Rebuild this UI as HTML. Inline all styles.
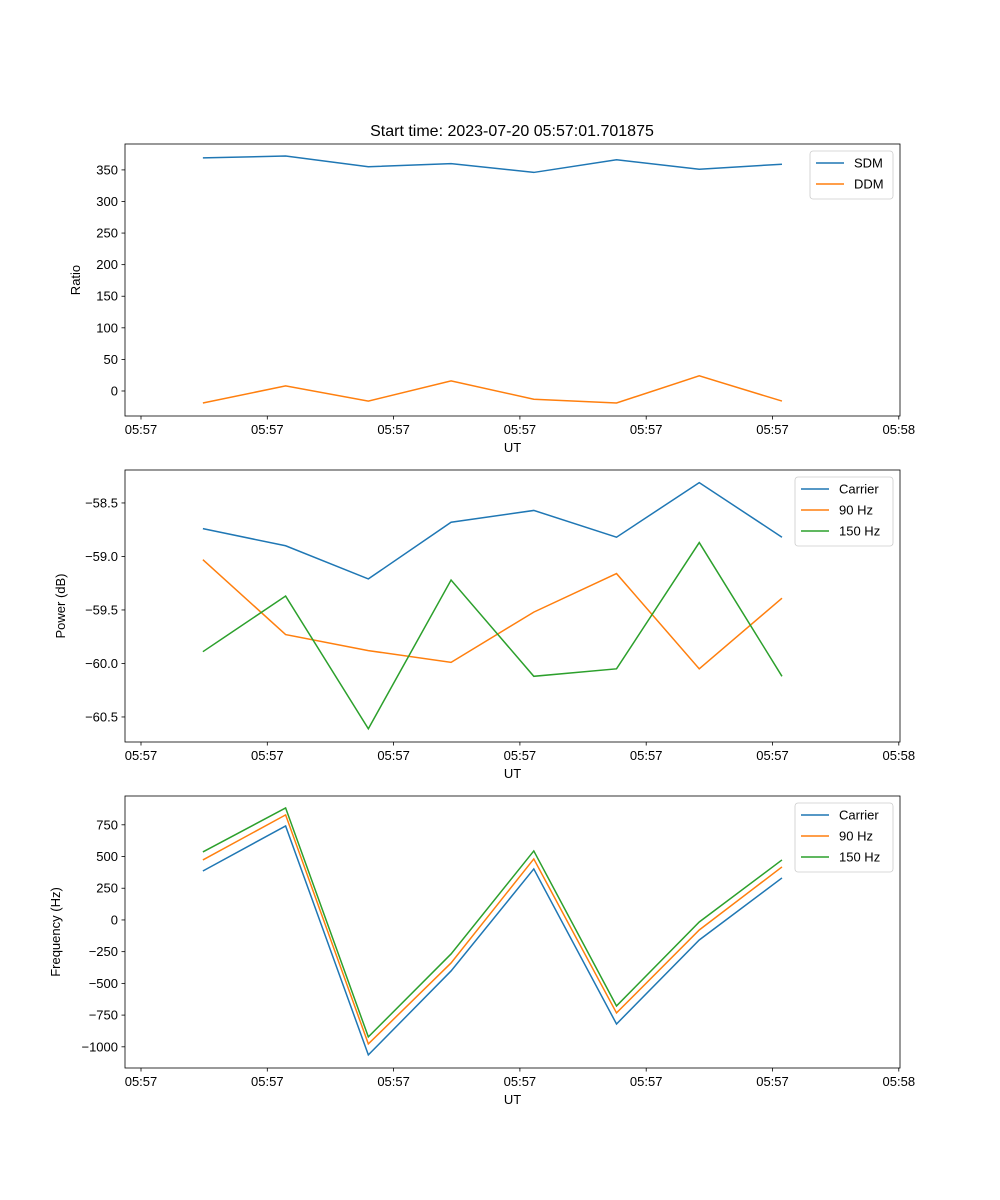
<!DOCTYPE html>
<html><head><meta charset="utf-8"><style>
body{margin:0;background:#fff;}
svg{display:block;font-family:"Liberation Sans","DejaVu Sans",sans-serif;}
</style></head><body>
<svg id="fig" width="1000" height="1200" xmlns="http://www.w3.org/2000/svg">
<text x="512" y="136" font-size="16" text-anchor="middle">Start time: 2023-07-20 05:57:01.701875</text>
</svg>
<script>
const xIdx = [0, 1, 2, 3, 4, 5, 6, 7];
const xTickLabels = ["05:57","05:57","05:57","05:57","05:57","05:57","05:58"];
const sdm = [369, 372, 355, 360, 346, 366, 351, 359];
const ddm = [-19, 8, -16, 16, -13, -19, 24, -16];
const pwrCarrier = [-58.74, -58.90, -59.21, -58.68, -58.57, -58.82, -58.31, -58.82];
const pwr90 = [-59.03, -59.73, -59.88, -59.99, -59.52, -59.16, -60.05, -59.39];
const pwr150 = [-59.89, -59.37, -60.61, -59.22, -60.12, -60.05, -58.87, -60.12];
const frqCarrier = [386, 741, -1064, -402, 402, -820, -158, 331];
const frq90 = [473, 828, -977, -339, 481, -733, -79, 418];
const frq150 = [536, 883, -922, -268, 544, -678, -16, 473];
const ratioTicks = [0, 50, 100, 150, 200, 250, 300, 350];
const powerTicks = [-60.5, -60.0, -59.5, -59.0, -58.5];
const freqTicks = [-1000, -750, -500, -250, 0, 250, 500, 750];

const NS = "http://www.w3.org/2000/svg";
const svg = document.getElementById("fig");
const L = 125, R = 900;
function xTick(i){ return 141 + i*126.3; }
function xData(j){ return xTick(0.49 + j*0.655); }
function mk(tag, attrs, parent){ const e = document.createElementNS(NS, tag); for (const k in attrs) e.setAttribute(k, attrs[k]); (parent||svg).appendChild(e); return e; }

function panel(top, bottom, yMin, yMax, ticks, fmt, ylabel, ylabelX, series, legend, name){
  const g = mk("g", {});
  
  
  const y = v => bottom - (v - yMin) / (yMax - yMin) * (bottom - top);
  series.forEach(s => {
    const pts = s.data.map((v, j) => xData(xIdx[j]).toFixed(2) + "," + y(v).toFixed(2)).join(" ");
    const pl = mk("polyline", {points: pts, fill: "none", stroke: s.color, "stroke-width": 1.5}, g);
    
    
  });
  const fr = mk("rect", {x: L, y: top, width: R-L, height: bottom-top, fill: "none", stroke: "#000", "stroke-width": 0.8}, g);
  
  
  xTickLabels.forEach((lab, i) => {
    const x = xTick(i);
    mk("line", {x1: x, x2: x, y1: bottom, y2: bottom+3.5, stroke: "#000", "stroke-width": 0.8}, g);
    const t = mk("text", {x: x, y: bottom+18, "font-size": 13, "text-anchor": "middle"}, g);
    t.textContent = lab;
    
    
  });
  const xl = mk("text", {x: (L+R)/2, y: bottom+36, "font-size": 13, "text-anchor": "middle"}, g);
  xl.textContent = "UT";
  
  
  ticks.forEach(v => {
    const yy = y(v);
    mk("line", {x1: L-3.5, x2: L, y1: yy, y2: yy, stroke: "#000", "stroke-width": 0.8}, g);
    const t = mk("text", {x: L-7, y: yy+4.5, "font-size": 13, "text-anchor": "end"}, g);
    t.textContent = fmt(v);
    
    
  });
  const yc = (top+bottom)/2, yx = ylabelX;
  const yl = mk("text", {x: yx, y: yc, "font-size": 13, "text-anchor": "middle", transform: `rotate(-90 ${yx} ${yc})`}, g);
  yl.textContent = ylabel;
  
  
  const lg = mk("g", {}, g);
  
  
  mk("rect", {x: legend.x, y: top+7, width: R-7-legend.x, height: series.length*21+6, rx: 3, fill: "#fff", stroke: "#ccc", "stroke-width": 0.8}, lg);
  series.forEach((s, k) => {
    const ly = top + 7 + 12 + k*21;
    mk("line", {x1: legend.x+6, x2: legend.x+34, y1: ly, y2: ly, stroke: s.color, "stroke-width": 1.5}, lg);
    const t = mk("text", {x: legend.x+44, y: ly+4.5, "font-size": 13}, lg);
    t.textContent = s.label;
    
    
  });
}
const minus = s => s.replace("-", "\u2212");
panel(144, 416, -39.6, 391, ratioTicks, v => minus(String(v)), "Ratio", 80,
  [{key:"sdm", label:"SDM", color:"#1f77b4", data: sdm},
   {key:"ddm", label:"DDM", color:"#ff7f0e", data: ddm}], {x: 810}, "ratio-panel");
panel(470, 742, -60.734, -58.192, powerTicks, v => minus(v.toFixed(1)), "Power (dB)", 65,
  [{key:"carrier", label:"Carrier", color:"#1f77b4", data: pwrCarrier},
   {key:"90hz", label:"90 Hz", color:"#ff7f0e", data: pwr90},
   {key:"150hz", label:"150 Hz", color:"#2ca02c", data: pwr150}], {x: 795}, "power-panel");
panel(796, 1068, -1167, 977, freqTicks, v => minus(String(v)), "Frequency (Hz)", 60,
  [{key:"carrier", label:"Carrier", color:"#1f77b4", data: frqCarrier},
   {key:"90hz", label:"90 Hz", color:"#ff7f0e", data: frq90},
   {key:"150hz", label:"150 Hz", color:"#2ca02c", data: frq150}], {x: 795}, "frequency-panel");
</script>
</body></html>
